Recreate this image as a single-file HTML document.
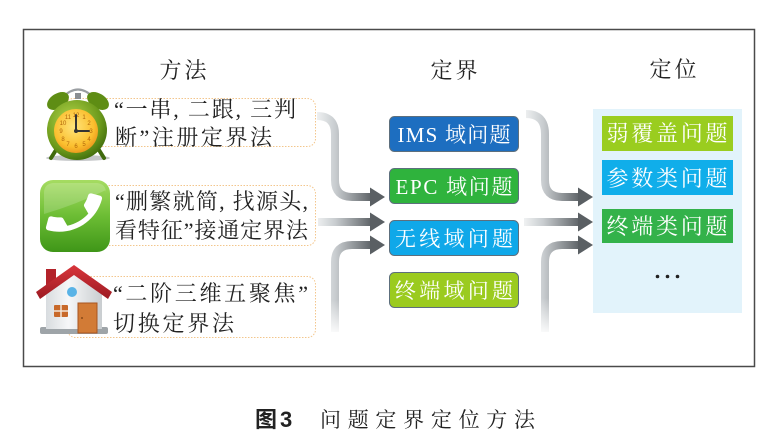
<!DOCTYPE html>
<html>
<head>
<meta charset="utf-8">
<style>
  html,body{margin:0;padding:0;background:#fff;}
  body{width:776px;height:436px;overflow:hidden;position:relative;}
  svg{position:absolute;left:0;top:0;}
</style>
</head>
<body>
<svg width="776" height="436" viewBox="0 0 776 436" xmlns="http://www.w3.org/2000/svg">
  <defs>
    <linearGradient id="gl" gradientUnits="userSpaceOnUse" x1="317" y1="0" x2="372" y2="0">
      <stop offset="0" stop-color="#eef0f1"/>
      <stop offset="0.33" stop-color="#c9cdd0"/>
      <stop offset="1" stop-color="#5d6266"/>
    </linearGradient>
    <linearGradient id="gr" gradientUnits="userSpaceOnUse" x1="525" y1="0" x2="580" y2="0">
      <stop offset="0" stop-color="#eef0f1"/>
      <stop offset="0.33" stop-color="#c9cdd0"/>
      <stop offset="1" stop-color="#5d6266"/>
    </linearGradient>
    <linearGradient id="fadeDown" x1="0" y1="0" x2="0" y2="1">
      <stop offset="0" stop-color="#fff" stop-opacity="0"/>
      <stop offset="1" stop-color="#fff" stop-opacity="1"/>
    </linearGradient>
    <radialGradient id="clockBody" cx="0.4" cy="0.35" r="0.7">
      <stop offset="0" stop-color="#b5d64a"/>
      <stop offset="0.7" stop-color="#6c9a1c"/>
      <stop offset="1" stop-color="#3f6a0c"/>
    </radialGradient>
    <radialGradient id="clockFace" cx="0.45" cy="0.4" r="0.65">
      <stop offset="0" stop-color="#ffe47a"/>
      <stop offset="0.7" stop-color="#fbbf2e"/>
      <stop offset="1" stop-color="#e8901a"/>
    </radialGradient>
    <linearGradient id="phoneG" x1="0" y1="0" x2="0" y2="1">
      <stop offset="0" stop-color="#a6dc62"/>
      <stop offset="0.5" stop-color="#6cbd34"/>
      <stop offset="1" stop-color="#3f9618"/>
    </linearGradient>
    <linearGradient id="wallG" x1="0" y1="0" x2="1" y2="0">
      <stop offset="0" stop-color="#d8dcdf"/>
      <stop offset="0.4" stop-color="#f6f7f8"/>
      <stop offset="1" stop-color="#c9cdd0"/>
    </linearGradient>
    <linearGradient id="roofG" x1="0" y1="0" x2="0" y2="1">
      <stop offset="0" stop-color="#d9363c"/>
      <stop offset="1" stop-color="#9c1a22"/>
    </linearGradient>
  </defs>

  <!-- outer frame -->
  <rect x="23.5" y="29.5" width="731" height="337" fill="none" stroke="#4a4a4a" stroke-width="1.5"/>

  <!-- headers -->
  <g font-family="'Liberation Serif','Noto Serif CJK SC',serif" font-size="22" fill="#222">
    <text x="183" y="78" text-anchor="middle" textLength="47" lengthAdjust="spacing">方法</text>
    <text x="454" y="78" text-anchor="middle" textLength="47" lengthAdjust="spacing">定界</text>
    <text x="673" y="77" text-anchor="middle" textLength="47" lengthAdjust="spacing">定位</text>
  </g>

  <!-- method boxes -->
  <g fill="#fff" stroke="#f3c68c" stroke-width="1" stroke-dasharray="1.5 1.5">
    <rect x="65.5" y="98.5" width="250" height="48" rx="8"/>
    <rect x="70.5" y="185.5" width="245" height="60" rx="8"/>
    <rect x="67.5" y="276.5" width="248" height="61" rx="8"/>
  </g>

  <!-- method text -->
  <g font-family="'Liberation Serif','Noto Serif CJK SC',serif" font-size="22" fill="#222">
    <text x="114" y="117" textLength="182" lengthAdjust="spacing">“一串, 二跟, 三判</text>
    <text x="115" y="145" textLength="157" lengthAdjust="spacing">断”注册定界法</text>
    <text x="115" y="209" textLength="193" lengthAdjust="spacing">“删繁就简, 找源头,</text>
    <text x="115" y="238" textLength="193" lengthAdjust="spacing">看特征”接通定界法</text>
    <text x="113" y="301" textLength="195" lengthAdjust="spacing">“二阶三维五聚焦”</text>
    <text x="113" y="331" textLength="121" lengthAdjust="spacing">切换定界法</text>
  </g>

  <!-- left arrows -->
  <g fill="none" stroke="url(#gl)" stroke-width="8">
    <path d="M317 116 Q335 116 335 134 L335 180 Q335 197 352 197 L372 197"/>
    <path d="M318 222 L372 222"/>
    <path d="M335 332 L335 262 Q335 245 352 245 L372 245"/>
  </g>
  <rect x="326" y="300" width="18" height="36" fill="url(#fadeDown)"/>
  <g fill="#5a5f63">
    <polygon points="370,187.5 385,197 370,206.5"/>
    <polygon points="370,212.5 385,222 370,231.5"/>
    <polygon points="370,235.5 385,245 370,254.5"/>
  </g>

  <!-- middle boxes -->
  <g stroke="#5d6f7d" stroke-width="1">
    <rect x="389.5" y="116.5" width="129" height="35" rx="5" fill="#1d6ec0"/>
    <rect x="389.5" y="168.5" width="129" height="35" rx="5" fill="#2fb33d"/>
    <rect x="389.5" y="220.5" width="129" height="35" rx="5" fill="#0fa8e9"/>
    <rect x="389.5" y="272.5" width="129" height="35" rx="5" fill="#9bcb1f"/>
  </g>
  <g font-family="'Liberation Serif','Noto Serif CJK SC',serif" font-size="21" fill="#fff" text-anchor="middle">
    <text x="454" y="142" textLength="113" lengthAdjust="spacing">IMS 域问题</text>
    <text x="454" y="194" textLength="117" lengthAdjust="spacing">EPC 域问题</text>
    <text x="454" y="246" textLength="118" lengthAdjust="spacing">无线域问题</text>
    <text x="454" y="298" textLength="118" lengthAdjust="spacing">终端域问题</text>
  </g>

  <!-- right arrows -->
  <g fill="none" stroke="url(#gr)" stroke-width="8">
    <path d="M526 114 Q545 114 545 134 L545 180 Q545 197 562 197 L580 197"/>
    <path d="M524 222 L580 222"/>
    <path d="M545 332 L545 262 Q545 245 562 245 L580 245"/>
  </g>
  <rect x="536" y="298" width="18" height="38" fill="url(#fadeDown)"/>
  <g fill="#5a5f63">
    <polygon points="578,187.5 593,197 578,206.5"/>
    <polygon points="578,212.5 593,222 578,231.5"/>
    <polygon points="578,235.5 593,245 578,254.5"/>
  </g>

  <!-- right panel -->
  <rect x="593" y="109" width="149" height="204" fill="#e2f3fb"/>
  <rect x="602" y="116" width="131" height="35" fill="#9acd1f"/>
  <rect x="602" y="160" width="131" height="35" fill="#10aeea"/>
  <rect x="602" y="209" width="131" height="34" fill="#33b24a"/>
  <g font-family="'Liberation Serif','Noto Serif CJK SC',serif" font-size="22" fill="#fff" text-anchor="middle">
    <text x="667" y="141" textLength="121" lengthAdjust="spacing">弱覆盖问题</text>
    <text x="667" y="186" textLength="121" lengthAdjust="spacing">参数类问题</text>
    <text x="667" y="234" textLength="121" lengthAdjust="spacing">终端类问题</text>
  </g>
  <g fill="#222">
    <circle cx="657.5" cy="276.5" r="1.8"/>
    <circle cx="667.5" cy="276.5" r="1.8"/>
    <circle cx="677.5" cy="276.5" r="1.8"/>
  </g>

  <!-- clock icon -->
  <ellipse cx="78" cy="158" rx="32" ry="3" fill="#c4c6c8"/>
  <path d="M63 97 Q78 82 93 97" fill="none" stroke="#9a9ea2" stroke-width="2.2"/>
  <rect x="75" y="93" width="6" height="6" fill="#8a8e92"/>
  <ellipse cx="58" cy="101" rx="12" ry="7.5" fill="#5e8d14" transform="rotate(-32 58 101)"/>
  <ellipse cx="98" cy="101" rx="12" ry="7.5" fill="#5e8d14" transform="rotate(32 98 101)"/>
  <path d="M56 150 L51 158 M99 150 L104 158" stroke="#3f6a0c" stroke-width="4" stroke-linecap="round"/>
  <circle cx="77" cy="130" r="30" fill="url(#clockBody)"/>
  <circle cx="76" cy="131" r="22" fill="url(#clockFace)"/>
  <g font-family="'Liberation Sans',sans-serif" font-size="6" fill="#b0650a" text-anchor="middle">
    <text x="76" y="117">12</text>
    <text x="84" y="119">1</text>
    <text x="89" y="125">2</text>
    <text x="91" y="133">3</text>
    <text x="89" y="141">4</text>
    <text x="84" y="146">5</text>
    <text x="76" y="148">6</text>
    <text x="68" y="146">7</text>
    <text x="63" y="141">8</text>
    <text x="61" y="133">9</text>
    <text x="63" y="125">10</text>
    <text x="68" y="119">11</text>
  </g>
  <path d="M76 131 L76 115 M76 131 L89 131" stroke="#333" stroke-width="2" stroke-linecap="round"/>
  <circle cx="76" cy="131" r="2" fill="#333"/>

  <!-- phone icon -->
  <rect x="40" y="180" width="70" height="72" rx="13" fill="url(#phoneG)"/>
  <path d="M44 214 Q75 205 106 190 L106 193 Q106 184 97 183 L53 183 Q44 184 44 193 Z" fill="#ffffff" opacity="0.18"/>
  <path transform="translate(74 213) rotate(-75) scale(2.6) translate(-12 -12)" fill="#fff"
    d="M6.62 10.79c1.44 2.830 3.760 5.140 6.590 6.590l2.2-2.2c.27-.27.67-.36 1.02-.24 1.12.37 2.33.57 3.57.57.55 0 1 .45 1 1V20c0 .55-.45 1-1 1-9.39 0-17-7.610-17-17 0-.55.45-1 1-1h3.5c.55 0 1 .45 1 1 0 1.25.2 2.45.57 3.57.11.35.03.74-.25 1.02l-2.2 2.2z"/>

  <!-- house icon -->
  <rect x="40" y="327" width="68" height="7" rx="2" fill="#9ea4a8"/>
  <polygon points="46,288 74,270 102,288 102,329 46,329" fill="url(#wallG)"/>
  <rect x="46" y="269" width="10" height="16" fill="#b3222a"/>
  <polygon points="36,292 74,265 112,292 108,299 74,275 40,299" fill="url(#roofG)"/>
  <circle cx="72" cy="292" r="5" fill="#59b3e6"/>
  <rect x="54" y="305" width="14" height="12" rx="1" fill="#c8692a"/>
  <path d="M61 305 L61 317 M54 311 L68 311" stroke="#f3e6d8" stroke-width="1.5"/>
  <rect x="78" y="303" width="19" height="30" fill="#d27b36" stroke="#a85520" stroke-width="1"/>
  <circle cx="82" cy="318" r="1" fill="#8a4a18"/>

  <!-- caption -->
  <text x="255" y="427" font-family="'Liberation Sans','Noto Sans CJK SC',sans-serif" font-size="22" font-weight="bold" fill="#222">图<tspan dx="3">3</tspan></text>
  <text x="320" y="427" font-family="'Liberation Serif','Noto Serif CJK SC',serif" font-size="21" fill="#222" textLength="215" lengthAdjust="spacing">问题定界定位方法</text>
</svg>
</body>
</html>
